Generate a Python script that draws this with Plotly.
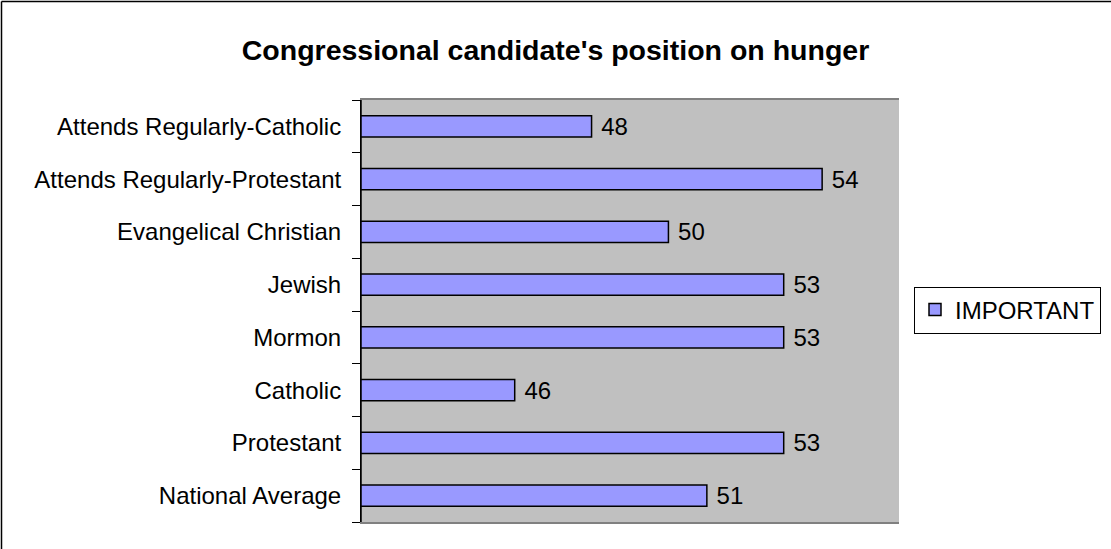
import plotly.graph_objects as go

categories = ["National Average", "Protestant", "Catholic", "Mormon", "Jewish",
              "Evangelical Christian", "Attends Regularly-Protestant", "Attends Regularly-Catholic"]
important = [51, 53, 46, 53, 53, 50, 54, 48]

W, H = 1111, 549
L, R, T, B = 361, 212, 100, 27
pw, ph = W - L - R, H - T - B
FONT = "Liberation Sans, Arial, sans-serif"

def px(x):
    return (x - L) / pw

def py(y):
    return (H - B - y) / ph

fig = go.Figure()
fig.add_trace(go.Bar(
    y=categories, x=important, orientation="h", name="IMPORTANT",
    marker=dict(color="#9999FF", line=dict(color="black", width=1.5)),
    text=["\u00a0" + str(v) for v in important], textposition="outside",
    textfont=dict(family=FONT, size=24, color="black"),
    cliponaxis=False,
))

fig.update_layout(
    width=W, height=H,
    margin=dict(l=L, r=R, t=T, b=B, autoexpand=False),
    paper_bgcolor="white", plot_bgcolor="#C0C0C0",
    font=dict(family=FONT, size=24, color="black"),
    bargap=0.6,
    title=dict(text="<b>Congressional candidate's position on hunger</b>",
               x=0.5, xanchor="center", y=1 - 50 / H, yanchor="middle",
               font=dict(size=28.5, color="black")),
    showlegend=True,
    legend=dict(x=px(914), y=py(310), xanchor="left", yanchor="middle",
                bgcolor="white", bordercolor="black", borderwidth=1,
                font=dict(size=24), itemwidth=30, tracegroupgap=0),
    xaxis=dict(range=[42, 56], showticklabels=False, showgrid=False, zeroline=False,
               showline=True, linecolor="#808080", linewidth=1.5, mirror=True, ticks=""),
    yaxis=dict(showgrid=False, zeroline=False, showline=True, linecolor="black", linewidth=1,
               ticks="outside", ticklen=8, tickcolor="black",
               tickson="boundaries", ticklabelstandoff=14),
    uniformtext=dict(mode="show", minsize=24),
)

# left axis line black
fig.add_shape(type="line", xref="paper", yref="paper", x0=0, x1=0, y0=0, y1=1,
              line=dict(color="black", width=1.5))
# outer chart border (left and top)
fig.add_shape(type="line", xref="paper", yref="paper", x0=px(1.5), x1=px(1.5), y0=py(1.5), y1=py(H),
              line=dict(color="black", width=1.5))
fig.add_shape(type="line", xref="paper", yref="paper", x0=px(1.5), x1=px(W), y0=py(1.5), y1=py(1.5),
              line=dict(color="black", width=1.5))

fig.write_html("out.html", config={"displayModeBar": False},
               post_script="document.body.style.margin='0';document.body.style.padding='0';")
